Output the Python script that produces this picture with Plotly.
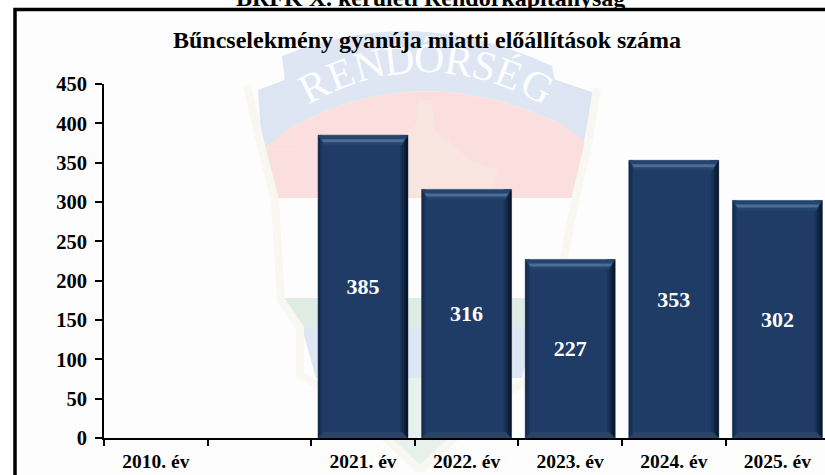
import math
import plotly.graph_objects as go

categories = ["2010. év", " ", "2021. év", "2022. év", "2023. év", "2024. év", "2025. év"]
values = [None, None, 385, 316, 227, 353, 302]
y_ticks = [0, 50, 100, 150, 200, 250, 300, 350, 400, 450]
main_title = "Bűncselekmény gyanúja miatti előállítások száma"
top_title = "BRFK X. kerületi Rendőrkapitányság"
wm_letters = list("RENDŐRSÉG")
wm_widths = [0.667, 0.611, 0.722, 0.722, 0.722, 0.667, 0.556, 0.611, 0.722]

W, H = 825, 475
L, R, T, B = 104, 825, 84, 438
SERIF = "Liberation Serif"
BAR_W = 0.868
xmax = (R - L) / 103.6 - 0.5
ux = 1 / 103.6
uy = 450 / (B - T)


def px_path(d):
    """Turn a path written in page pixels into paper coordinates."""
    out = []
    for tok in d:
        if isinstance(tok, str):
            out.append(tok)
        else:
            out.append(f"{tok[0] / W:.5f},{1 - tok[1] / H:.5f}")
    return " ".join(out)


shapes = []


def wm(d, fill=None, line=None, lw=0):
    shapes.append(dict(type="path", xref="paper", yref="paper", layer="below",
                       path=px_path(d), fillcolor=fill or "rgba(0,0,0,0)",
                       line=dict(color=line or "rgba(0,0,0,0)", width=lw)))


def poly(*pts):
    d = ["M", pts[0]]
    for p in pts[1:]:
        d += ["L", p]
    return d + ["Z"]


# page panel
shapes.append(dict(type="rect", xref="paper", yref="paper", layer="below",
                   x0=15 / W, x1=1.02, y0=-0.02, y1=1 - 9.5 / H,
                   fillcolor="#FDFDFD", line=dict(color="black", width=3.5)))

# watermark: emblem bands
SOFT = "#F8F7F2"
wm(poly((262, 150), (590, 142), (578, 198), (274, 198)), fill="#FBDEDE")
wm(poly((280, 298), (558, 298), (540, 330), (298, 330)), fill="#DFECE4")
wm(poly((302, 328), (534, 328), (522, 378), (316, 378)), fill="#DDE6F3")
wm(poly((340, 378), (498, 378), (420, 472)), fill="#E8F1EB")
# ribbon tails and banner
wm(poly((258, 90), (290, 78), (292, 128), (262, 150)), fill="#DCE5F1")
wm(poly((550, 78), (595, 93), (583, 145), (560, 128)), fill="#DCE5F1")
wm(["M", (282, 56), "Q", (415, 2), (552, 66), "L", (563, 125),
    "Q", (420, 56), (290, 128), "Z"], fill="#DDE6F2")
wm(["M", (290, 128), "Q", (420, 56), (563, 125), "L", (590, 145), "L", (262, 150), "Z"], fill="#FBDEDE")
# shield rim
wm(["M", (247, 85), "L", (262, 150), "L", (275, 200), "L", (281, 300), "L", (300, 328),
    "L", (300, 375), "L", (345, 400), "L", (420, 470)], line=SOFT, lw=8)
wm(["M", (597, 88), "L", (587, 150), "L", (575, 200), "L", (556, 300), "L", (538, 328),
    "L", (536, 375), "L", (495, 400), "L", (420, 470)], line=SOFT, lw=8)
# tower on the red band
wm(poly((418, 100), (432, 100), (434, 130), (448, 140), (470, 160), (498, 170), (490, 196),
        (400, 196), (404, 135), (416, 125)), fill="#F8E5E0")

# bars: bevel painted from the data
for i, v in enumerate(values):
    if v is None:
        continue
    x0, x1 = i - BAR_W / 2, i + BAR_W / 2
    dx, dy = 6 * ux, 10 * uy

    def bar_shape(pts, color):
        shapes.append(dict(type="path", xref="x", yref="y", layer="above",
                           path="M " + " L ".join(f"{a:.4f},{b:.3f}" for a, b in pts) + " Z",
                           fillcolor=color, line=dict(width=0)))

    # right side, darkening outward
    for k, col in enumerate(["#19335A", "#132A49", "#0D1F38", "#081526"]):
        a = x1 - (8 - 2 * k) * ux
        bar_shape([(a, 0), (a + 2 * ux, 0), (a + 2 * ux, v), (a, v)], col)
    # left side
    bar_shape([(x0, 0), (x0 + 2 * ux, 0), (x0 + 2 * ux, v), (x0, v)], "#16294A")
    bar_shape([(x0 + 2 * ux, 0), (x0 + 4 * ux, 0), (x0 + 4 * ux, v), (x0 + 2 * ux, v)], "#1A3459")
    # bottom
    bar_shape([(x0, 0), (x1, 0), (x1 - dx, 6 * uy), (x0 + dx, 6 * uy)], "#2A4468")
    # top bevel
    bar_shape([(x0, v), (x1, v), (x1 - dx, v - dy), (x0 + dx, v - dy)], "#24446F")
    bar_shape([(x0 + 3 * ux, v - 4 * uy), (x1 - 3 * ux, v - 4 * uy),
               (x1 - 5 * ux, v - 7 * uy), (x0 + 5 * ux, v - 7 * uy)], "#4A6C95")

fig = go.Figure(go.Bar(
    x=categories, y=values, width=BAR_W,
    text=[str(v) if v is not None else "" for v in values],
    textposition="inside", insidetextanchor="middle", textangle=0,
    constraintext="none",
    textfont=dict(family=SERIF, size=22, color="white", weight="bold"),
    marker=dict(color="#1F3C66", line=dict(color="#7F8FA5", width=1)),
    hoverinfo="skip",
))

annotations = []
# watermark lettering on the arc
WM_SIZE = 42
cursor = 300.0
for ch, w in zip(wm_letters, wm_widths):
    x = cursor + w * WM_SIZE / 2
    cursor += w * WM_SIZE
    k = 0.00227
    y = 58 + k * (x - 425) ** 2
    ang = math.degrees(math.atan(2 * k * (x - 425)))
    annotations.append(dict(text=ch, xref="paper", yref="paper", x=x / W, y=1 - y / H,
                            xanchor="center", yanchor="middle", showarrow=False, textangle=ang,
                            font=dict(family=SERIF, size=WM_SIZE, color="rgba(255,255,255,0.95)")))
annotations.append(dict(text=f"<b>{main_title}</b>", xref="paper", yref="paper",
                        x=426.5 / W, y=1 - 40 / H, xanchor="center", yanchor="middle", showarrow=False,
                        font=dict(family=SERIF, size=24, color="black")))
annotations.append(dict(text=f"<b>{top_title}</b>", xref="paper", yref="paper",
                        x=430 / W, y=1 + 2 / H, xanchor="center", yanchor="middle", showarrow=False,
                        font=dict(family=SERIF, size=24, color="black")))

fig.update_layout(
    width=W, height=H, autosize=False,
    margin=dict(l=0, r=0, t=0, b=0, pad=0),
    paper_bgcolor="white", plot_bgcolor="rgba(0,0,0,0)",
    showlegend=False, shapes=shapes, annotations=annotations,
    font=dict(family=SERIF, color="black"),
    xaxis=dict(domain=[L / W, R / W], type="category",
               categoryorder="array", categoryarray=categories,
               range=[-0.5, xmax], tickson="boundaries", ticks="outside", ticklen=6, tickwidth=1.6,
               tickcolor="black", showline=True, linecolor="black", linewidth=2,
               showgrid=False, zeroline=False, automargin=False, ticklabelstandoff=5,
               tickfont=dict(family=SERIF, size=19.5, color="black", weight="bold")),
    yaxis=dict(domain=[1 - B / H, 1 - T / H], range=[0, 450], tickvals=y_ticks,
               ticks="outside", ticklen=7, tickwidth=1.6, tickcolor="black",
               showline=True, linecolor="black", linewidth=2, showgrid=False, zeroline=False,
               automargin=False, ticklabelstandoff=4,
               tickfont=dict(family=SERIF, size=20.5, color="black", weight="bold")),
)
fig.write_html("out.html", config=dict(displayModeBar=False),
               post_script="document.body.style.margin='0';document.body.style.overflow='hidden';")
